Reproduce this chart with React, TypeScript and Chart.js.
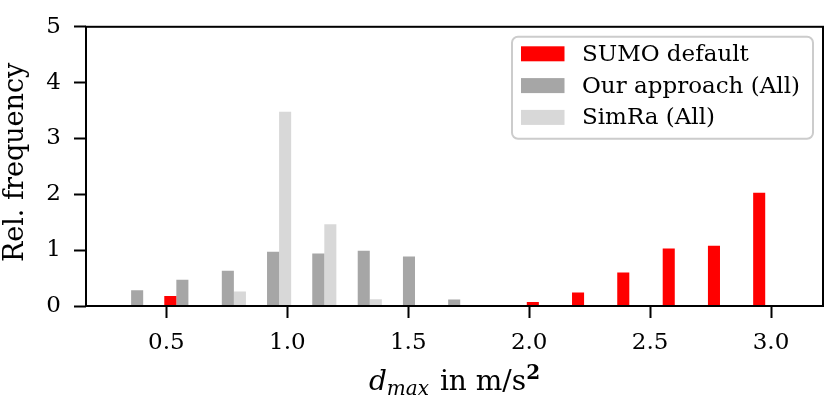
import { useEffect, useRef } from "react"
import { Chart, registerables } from "chart.js"

Chart.register(...registerables)

// histogram bins (centres)
const binCenters = [0.379, 0.566, 0.754, 0.941, 1.128, 1.316, 1.503, 1.69, 1.877, 2.065, 2.252, 2.439, 2.627, 2.814, 3.001]
const sumoDefault = [0, 0.18, 0, 0, 0, 0, 0, 0, 0, 0.07, 0.24, 0.6, 1.03, 1.08, 2.03]
const ourApproach = [0.28, 0.47, 0.63, 0.97, 0.94, 0.99, 0.885, 0.115, 0, 0, 0, 0, 0, 0, 0]
const simRa = [0, 0, 0.26, 3.48, 1.465, 0.12, 0, 0, 0, 0, 0, 0, 0, 0, 0]
const seriesLabels = ["SUMO default", "Our approach (All)", "SimRa (All)"]
const seriesColors = ["#ff0000", "#a6a6a6", "#d8d8d8"]
const xTicks = [0.5, 1.0, 1.5, 2.0, 2.5, 3.0]
const yTicks = [0, 1, 2, 3, 4, 5]
const yTitle = "Rel. frequency"

const FAMILY = "'DejaVu Serif', serif"

const framePlugin = {
    id: "frame",
    afterDatasetsDraw(chart: Chart) {
        const { ctx, chartArea: a } = chart
        ctx.save()
        ctx.strokeStyle = "#000"
        ctx.lineWidth = 2
        ctx.strokeRect(a.left, a.top, a.right - a.left, a.bottom - a.top)
        ctx.restore()
    },
}

const legendPlugin = {
    id: "boxLegend",
    afterDraw(chart: Chart) {
        const { ctx, chartArea: a } = chart
        const w = 301
        const h = 102
        const x = a.right - 10 - w
        const y = a.top + 10
        ctx.save()
        ctx.beginPath()
        ctx.roundRect(x, y, w, h, 6)
        ctx.fillStyle = "rgba(255,255,255,0.8)"
        ctx.fill()
        ctx.strokeStyle = "#cccccc"
        ctx.lineWidth = 2
        ctx.stroke()
        ctx.font = `23px ${FAMILY}`
        ctx.textBaseline = "middle"
        chart.data.datasets.forEach((ds: any, i: number) => {
            const cy = y + 17 + i * 31.8
            ctx.fillStyle = ds.backgroundColor
            ctx.fillRect(x + 9, cy - 7.5, 43.5, 15)
            ctx.fillStyle = "#000"
            ctx.fillText(ds.label, x + 70, cy + 1)
        })
        ctx.restore()
    },
}

// axis titles drawn by hand: the x one needs a subscript and a superscript
const titlesPlugin = {
    id: "axisTitles",
    afterDraw(chart: Chart) {
        const { ctx, chartArea: a } = chart
        const size = 28
        const small = 20
        const parts = [
            { t: "d", f: `italic ${size}px ${FAMILY}`, dy: 0 },
            { t: "max", f: `italic ${small}px ${FAMILY}`, dy: 5 },
            { t: " in m/s", f: `${size}px ${FAMILY}`, dy: 0 },
            { t: "2", f: `bold ${small}px ${FAMILY}`, dy: -11 },
        ]
        ctx.save()
        ctx.fillStyle = "#000"
        ctx.textBaseline = "alphabetic"
        let total = 0
        const widths = parts.map((p) => {
            ctx.font = p.f
            const wd = ctx.measureText(p.t).width + (p.t === "max" ? 2 : 0)
            total += wd
            return wd
        })
        let x = (a.left + a.right) / 2 - total / 2
        const base = a.bottom + 84
        parts.forEach((p, i) => {
            ctx.font = p.f
            ctx.fillText(p.t, x, base + p.dy)
            x += widths[i]
        })

        ctx.translate(16, (a.top + a.bottom) / 2 - 4)
        ctx.rotate(-Math.PI / 2)
        ctx.font = `27px ${FAMILY}`
        ctx.textAlign = "center"
        ctx.textBaseline = "middle"
        ctx.fillText(yTitle, 0, 0)
        ctx.restore()
    },
}

export default function App() {
    const canvasRef = useRef<HTMLCanvasElement | null>(null)
    const chartRef = useRef<Chart | null>(null)

    useEffect(() => {
        if (!canvasRef.current) return
        if (chartRef.current) chartRef.current.destroy()

        const series = [sumoDefault, ourApproach, simRa]

        chartRef.current = new Chart(canvasRef.current, {
            type: "bar",
            data: {
                datasets: series.map((values, i) => ({
                    label: seriesLabels[i],
                    data: binCenters.map((x, j) => ({ x, y: values[j] })),
                    backgroundColor: seriesColors[i],
                    borderWidth: 0,
                    categoryPercentage: 0.8,
                    barPercentage: 1.0,
                })),
            },
            options: {
                responsive: true,
                maintainAspectRatio: false,
                animation: false,
                layout: { padding: { top: 15, right: 7, left: 0, bottom: 0 } },
                plugins: {
                    legend: { display: false },
                    tooltip: { enabled: false },
                },
                scales: {
                    x: {
                        type: "linear",
                        min: 0.1675,
                        max: 3.215,
                        offset: false,
                        grid: {
                            display: true,
                            drawOnChartArea: false,
                            offset: false,
                            tickLength: 12,
                            tickColor: "#000",
                            tickWidth: 2,
                        },
                        border: { display: false },
                        afterBuildTicks: (scale: any) => {
                            scale.ticks = xTicks.map((value) => ({ value }))
                        },
                        afterFit: (scale: any) => {
                            scale.height = 98
                        },
                        ticks: {
                            color: "#000",
                            padding: 11,
                            maxRotation: 0,
                            font: { family: FAMILY, size: 23 },
                            callback: (v: any) => Number(v).toFixed(1),
                        },
                    },
                    y: {
                        min: 0,
                        max: 5,
                        grid: {
                            display: true,
                            drawOnChartArea: false,
                            tickLength: 12,
                            tickColor: "#000",
                            tickWidth: 2,
                        },
                        border: { display: false },
                        afterBuildTicks: (scale: any) => {
                            scale.ticks = yTicks.map((value) => ({ value }))
                        },
                        afterFit: (scale: any) => {
                            scale.width = 86
                        },
                        ticks: {
                            color: "#000",
                            padding: 13,
                            font: { family: FAMILY, size: 23 },
                        },
                    },
                },
            },
            plugins: [framePlugin, legendPlugin, titlesPlugin],
        })

        return () => {
            if (chartRef.current) {
                chartRef.current.destroy()
                chartRef.current = null
            }
        }
    }, [])

    return (
        <div style={{ position: "absolute", left: 0, top: 0, width: 830, height: 404, background: "#fff" }}>
            <canvas ref={canvasRef} />
        </div>
    )
}
